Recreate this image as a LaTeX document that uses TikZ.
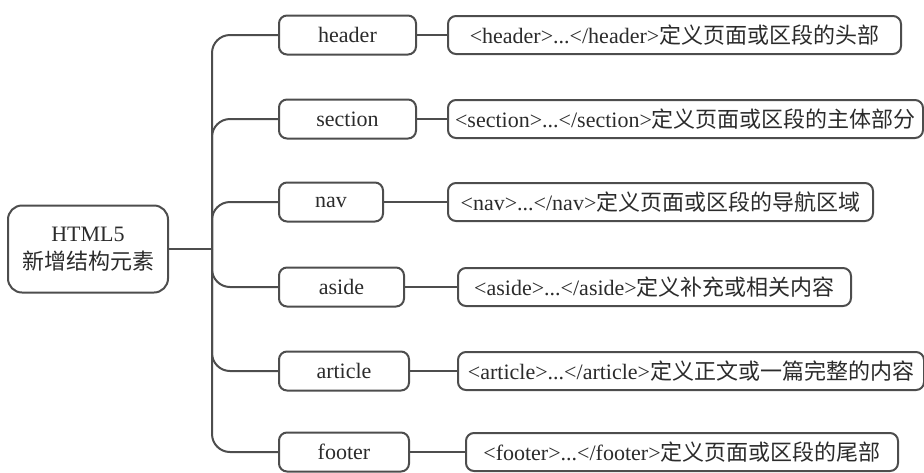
\documentclass[tikz,border=0pt]{standalone}
\usepackage{fontspec}
\setmainfont{Liberation Serif}
\newfontfamily\cjk{Noto Sans CJK SC}
\usepackage{xcolor}
\usepackage{tikz}
\usetikzlibrary{positioning}
\definecolor{linegray}{HTML}{4D4D4D}
\definecolor{textgray}{HTML}{2B2B2B}
\tikzset{link/.style = {line width=1pt, linegray}}

\begin{document}
\begin{tikzpicture}[x=0.5pt,y=-0.5pt,font=\fontsize{11}{14}\selectfont,
  root node/.style={draw=linegray,line width=1pt,text=textgray,rounded corners=7pt,align=center,minimum width=80pt,minimum height=43.5pt,inner sep=2pt},
  tag node/.style={draw=linegray,line width=1pt,text=textgray,rounded corners=4pt,anchor=west,minimum height=19.5pt,inner sep=2pt},
  desc node/.style={draw=linegray,line width=1pt,text=textgray,rounded corners=4pt,anchor=west,minimum height=19pt,inner sep=2pt}]
                    \useasboundingbox (0,0) rectangle (924,472);
                    \node[root node] (html) at (88,249) {HTML5\\\cjk 新增结构元素};
                    \coordinate (hub) at (212,249);

                    \node[tag node, minimum width=68.5pt] (header) at (278,35) {header};
                    \node[tag node, minimum width=68.5pt] (section) at (278,119) {section};
                    \node[tag node, minimum width=52pt] (nav) at (278,202) {nav};
                    \node[tag node, minimum width=62.5pt] (aside) at (278,287) {aside};
                    \node[tag node, minimum width=65pt] (article) at (278,371) {article};
                    \node[tag node, minimum width=65pt] (footer) at (278,452) {footer};

                    \node[desc node, minimum width=226.5pt] (hdesc) at (447,35) {<header>...</header>{\cjk 定义页面或区段的头部}};
                    \node[desc node, minimum width=237.5pt] (sdesc) at (447,119) {<section>...</section>{\cjk 定义页面或区段的主体部分}};
                    \node[desc node, minimum width=212.5pt] (ndesc) at (447,202) {<nav>...</nav>{\cjk 定义页面或区段的导航区域}};
                    \node[desc node, minimum width=196.5pt] (adesc) at (457,287) {<aside>...</aside>{\cjk 定义补充或相关内容}};
                    \node[desc node, minimum width=233pt] (rdesc) at (457,371) {<article>...</article>{\cjk 定义正文或一篇完整的内容}};
                    \node[desc node, minimum width=216pt] (fdesc) at (465,452) {<footer>...</footer>{\cjk 定义页面或区段的尾部}};

                    \draw[link] (html.east) -- (hub);
                    \foreach \n in {header,section,nav,aside,article,footer}
                      \draw[link, rounded corners=9pt] (hub) |- (\n.west);
                    \foreach \a/\b in {header/hdesc,section/sdesc,nav/ndesc,aside/adesc,article/rdesc,footer/fdesc}
                      \draw[link] (\a.east) -- (\b.west);
                \end{tikzpicture}
\end{document}
